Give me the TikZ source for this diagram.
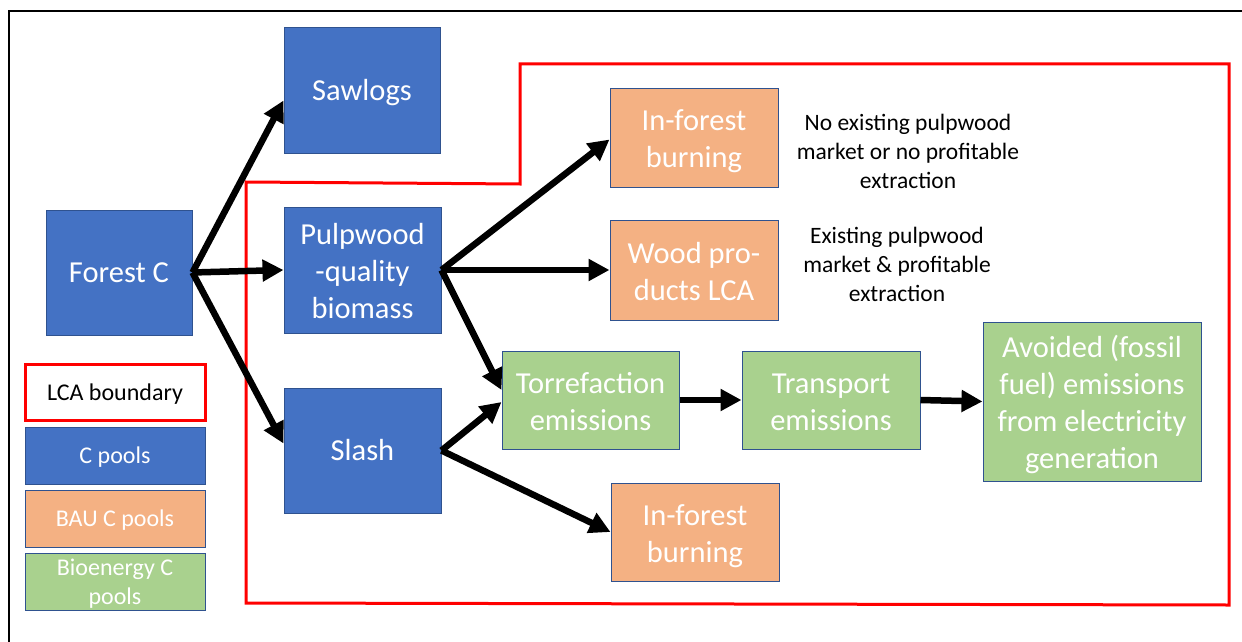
\documentclass[tikz,border=0pt]{standalone}
\usepackage{fontspec}
\setmainfont{Carlito}
\usetikzlibrary{arrows.meta,calc}
\definecolor{cblue}{HTML}{4472C4}
\definecolor{corange}{HTML}{F4B183}
\definecolor{cgreen}{HTML}{A9D18E}
\definecolor{cedge}{HTML}{2F528F}
\definecolor{cred}{HTML}{FF0000}
\newcommand\fh{\rule{0pt}{31pt}}
\newcommand\fd{\rule[-8pt]{0pt}{8pt}}
\newcommand\fsingle{\rule[-8pt]{0pt}{35.5pt}}
\newcommand\ls{\rule[-6pt]{0pt}{28pt}}
\begin{document}
\begin{tikzpicture}[x=1pt,y=-1pt,
  box/.style={draw=cedge,line width=1pt,text=white,align=center,inner sep=0pt,
    font=\fontsize{30.5}{37}\selectfont},
  bluebox/.style={box,fill=cblue},
  orangebox/.style={box,fill=corange},
  greenbox/.style={box,fill=cgreen},
  legbox/.style={draw=cedge,line width=1pt,text=white,align=center,inner sep=0pt,
    minimum width=180pt,minimum height=57pt,font=\fontsize{24}{28.5}\selectfont},
  note/.style={align=center,inner sep=0pt,font=\fontsize{23.5}{29}\selectfont},
  arr/.style={line width=6.5pt,-{Triangle[length=21pt,width=21pt]}},
  boundary/.style={draw=cred,line width=3pt},
]
\useasboundingbox (0,0) rectangle (1242,642);
\fill[white] (0,0) rectangle (1242,642);
% outer frame (top and left only)
\draw[line width=2pt] (9,642) -- (9,11) -- (1242,11);

% LCA boundary
\draw[boundary] (520,64) -- (1229,64) -- (1229,605) -- (246,603) -- (246,182) -- (520,184) -- cycle;

% main boxes
\node[bluebox,minimum width=156pt,minimum height=125pt] (saw) at (362,90.5) {\fsingle Sawlogs};
\node[bluebox,minimum width=146pt,minimum height=125pt] (forest) at (119,272.5) {\fsingle Forest C};
\node[bluebox,minimum width=157pt,minimum height=126pt] (pulp) at (362.5,270) {\fh Pulpwood\\-quality\\biomass\fd};
\node[bluebox,minimum width=157pt,minimum height=125pt] (slash) at (362.5,450.5) {\fsingle Slash};
\node[orangebox,minimum width=168pt,minimum height=99pt] (inf1) at (694,137.5) {\fh In-forest\\burning\fd};
\node[orangebox,minimum width=168pt,minimum height=100pt] (wood) at (694,270) {\fh Wood pro-\\ducts LCA\fd};
\node[greenbox,minimum width=177pt,minimum height=98pt] (torr) at (590.5,400) {\fh Torrefaction\\emissions\fd};
\node[greenbox,minimum width=178pt,minimum height=98pt] (trans) at (831,400) {\fh Transport\\emissions\fd};
\node[greenbox,minimum width=218pt,minimum height=159pt] (avoid) at (1092,401.5) {\fh Avoided (fossil\\fuel) emissions\\from electricity\\generation\fd};
\node[orangebox,minimum width=168pt,minimum height=98pt] (inf2) at (695,532) {\fh In-forest\\burning\fd};

% notes
\node[note] (n1) at (908,151) {No existing pulpwood\\market or no profitable\\extraction};
\node[note] (n2) at (897,264) {Existing pulpwood\\market \& profitable\\extraction};

% legend
\node[legbox,draw=cred,line width=3pt,fill=white,text=black,minimum height=56pt] (leglca) at (115,392.5) {\ls LCA boundary};
\node[legbox,fill=cblue] (legc) at (115,455.5) {\ls C pools};
\node[legbox,fill=corange] (legbau) at (115,518.5) {\ls BAU C pools};
\node[legbox,fill=cgreen] (legbio) at (115,582) {\ls Bioenergy C\\pools\rule[-6pt]{0pt}{6pt}};

% arrows
\draw[arr] (forest.east) -- ($(saw.west)+(0,10)$);
\draw[arr] (forest.east) -- (pulp.west);
\draw[arr] (forest.east) -- ($(slash.west)+(0,-7)$);
\draw[arr] (pulp.east) -- ($(inf1.west)+(0,2)$);
\draw[arr] (pulp.east) -- (wood.west);
\draw[arr] (pulp.east) -- ($(torr.west)+(0,-10)$);
\draw[arr] (slash.east) -- ($(torr.west)+(0,2)$);
\draw[arr] (slash.east) -- (inf2.west);
\draw[arr] (torr.east) -- (trans.west);
\draw[arr] (trans.east) -- (avoid.west);
\end{tikzpicture}
\end{document}
